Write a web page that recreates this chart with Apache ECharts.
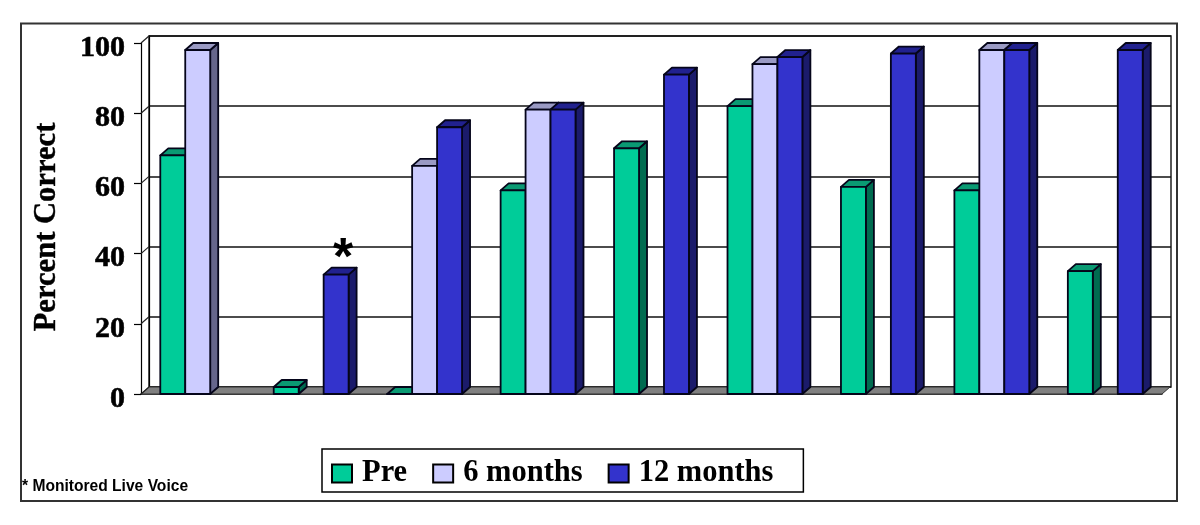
<!DOCTYPE html>
<html>
<head>
<meta charset="utf-8">
<style>
  html, body { margin: 0; padding: 0; background: #fff; }
  #main { width: 1200px; height: 525px; }
</style>
<script src="https://cdn.jsdelivr.net/npm/echarts@6/dist/echarts.min.js"></script>
</head>
<body>
<div id="main"></div>
<script>
const categories = ["", "", "", "", "", "", "", "", ""];
const pre = [68, 2, 0, 58, 70, 82, 59, 58, 35];
const sixMonths = [98, null, 65, 81, null, 94, null, 98, null];
const twelveMonths = [null, 34, 76, 81, 91, 96, 97, 98, 98];
const yTicks = [0, 20, 40, 60, 80, 100];
const starred = [[1, 34]];

const serif = '"Liberation Serif", "Times New Roman", serif';
const sans = '"Liberation Sans", Arial, sans-serif';
const depthX = 8;
const depthY = -7;
const barRatio = 0.22;

const chart = echarts.init(document.getElementById("main"));

// 3D bar: front, top and side faces
function barSeries(name, values, slot, front, top, side) {
  return {
    name: name,
    type: "custom",
    xAxisIndex: 0,
    yAxisIndex: 0,
    z: 5,
    itemStyle: { color: front, borderColor: "#000", borderWidth: 1.5 },
    data: values.map((v, i) => [i, v]),
    encode: { x: 0, y: 1 },
    renderItem(params, api) {
      if (api.value(1) == null || isNaN(api.value(1))) return null;
      const w = api.size([1, 0])[0] * barRatio;
      const t = api.coord([api.value(0), api.value(1)]);
      const b = api.coord([api.value(0), 0]);
      const x0 = t[0] + (slot - 1.5) * w;
      const x1 = x0 + w;
      const line = { stroke: "#05051a", lineWidth: 1.8, lineJoin: "round" };
      const poly = (points, fill) => ({
        type: "polygon",
        shape: { points: points },
        style: Object.assign({ fill: fill }, line),
      });
      return {
        type: "group",
        children: [
          poly([[x1, t[1]], [x1 + depthX, t[1] + depthY], [x1 + depthX, b[1] + depthY], [x1, b[1]]], side),
          poly([[x0, t[1]], [x0 + depthX, t[1] + depthY], [x1 + depthX, t[1] + depthY], [x1, t[1]]], top),
          poly([[x0, t[1]], [x1, t[1]], [x1, b[1]], [x0, b[1]]], front),
        ],
      };
    },
  };
}

// 地板和左侧墙
const wallSeries = {
  type: "custom",
  xAxisIndex: 0,
  yAxisIndex: 0,
  silent: true,
  z: 2,
  data: yTicks.map((v) => [0, v]),
  encode: { y: 1 },
  renderItem(params, api) {
    const c = params.coordSys;
    const y = api.coord([0, api.value(1)])[1];
    const children = [{
      type: "line",
      shape: { x1: c.x, y1: y, x2: c.x + depthX, y2: y + depthY },
      style: { stroke: "#222", lineWidth: 1.2 },
    }];
    if (params.dataIndex === 0) {
      children.unshift({
        type: "polygon",
        shape: { points: [[c.x, y], [c.x + depthX, y + depthY], [c.x + c.width + depthX, y + depthY], [c.x + c.width, y]] },
        style: { fill: "#808080", stroke: "#333", lineWidth: 1 },
      });
    }
    return { type: "group", children: children };
  },
};

const starSeries = {
  type: "custom",
  xAxisIndex: 0,
  yAxisIndex: 0,
  silent: true,
  z: 6,
  data: starred,
  renderItem(params, api) {
    const w = api.size([1, 0])[0] * barRatio;
    const p = api.coord([api.value(0), api.value(1)]);
    return {
      type: "text",
      x: p[0] + w + depthX - 1,
      y: p[1] + 11,
      style: {
        text: "*",
        font: "bold 52px " + sans,
        fill: "#000",
        align: "center",
        verticalAlign: "bottom",
      },
    };
  },
};

chart.setOption({
  animation: false,
  backgroundColor: "#fff",
  grid: [
    { left: 141, right: 38, top: 43, bottom: 131 },
    { left: 149, right: 29, top: 36, bottom: 138, show: true, borderColor: "#222", borderWidth: 1.5, backgroundColor: "#fff" },
  ],
  xAxis: [
    {
      type: "category",
      gridIndex: 0,
      data: categories,
      axisLine: { lineStyle: { color: "#000", width: 1.5 } },
      axisTick: { length: 5, lineStyle: { color: "#000", width: 1.2 } },
      axisLabel: { show: false },
    },
    { type: "category", gridIndex: 1, data: categories, show: false },
  ],
  yAxis: [
    {
      type: "value",
      gridIndex: 0,
      min: 0,
      max: 100,
      interval: 20,
      name: "Percent Correct",
      nameLocation: "middle",
      nameGap: 78,
      nameTextStyle: { fontFamily: serif, fontWeight: "bold", fontSize: 30.6, color: "#000", padding: [0, 17, 0, 0], textBorderColor: "#000", textBorderWidth: 0.4 },
      splitLine: { show: false },
      axisLine: { show: true, onZero: false, lineStyle: { color: "#000", width: 1.2 } },
      axisTick: { show: true, length: 7, lineStyle: { color: "#000", width: 1.2 } },
      axisLabel: {
        margin: 16,
        formatter: "{num|{value}}",
        rich: {
          num: { fontFamily: serif, fontWeight: "bold", fontSize: 30, color: "#000", padding: [10, 0, 0, 0], textBorderColor: "#000", textBorderWidth: 0.6 },
        },
      },
    },
    {
      type: "value",
      gridIndex: 1,
      min: 0,
      max: 100,
      interval: 20,
      axisLine: { show: true, lineStyle: { color: "#000", width: 1.2 } },
      axisTick: { show: false },
      axisLabel: { show: false },
      splitLine: { show: true, lineStyle: { color: "#111", width: 1.5 } },
    },
  ],
  legend: {
    left: 322,
    top: 449,
    padding: [9, 30, 3, 9],
    borderColor: "#000",
    borderWidth: 1.5,
    backgroundColor: "#fff",
    icon: "rect",
    itemWidth: 20,
    itemHeight: 18,
    itemGap: 25,
    textStyle: { fontFamily: serif, fontWeight: "bold", fontSize: 30.5, color: "#000", padding: [8, 0, 0, 5] },
    data: ["Pre", "6 months", "12 months"],
  },
  graphic: [
    {
      type: "rect",
      silent: true,
      z: 0,
      shape: { x: 21, y: 23.5, width: 1156, height: 477.5 },
      style: { fill: "none", stroke: "#333", lineWidth: 2 },
    },
    {
      type: "text",
      silent: true,
      left: 22,
      top: 479,
      style: { text: "* Monitored Live Voice", font: "bold 15.6px " + sans, fill: "#000" },
    },
  ],
  series: [
    wallSeries,
    barSeries("Pre", pre, 0, "#00CC99", "#0A9A73", "#006B50"),
    barSeries("6 months", sixMonths, 1, "#CCCCFF", "#9A9AC4", "#66668C"),
    barSeries("12 months", twelveMonths, 2, "#3333CC", "#21218F", "#1B1B6B"),
    starSeries,
  ],
});
</script>
</body>
</html>
